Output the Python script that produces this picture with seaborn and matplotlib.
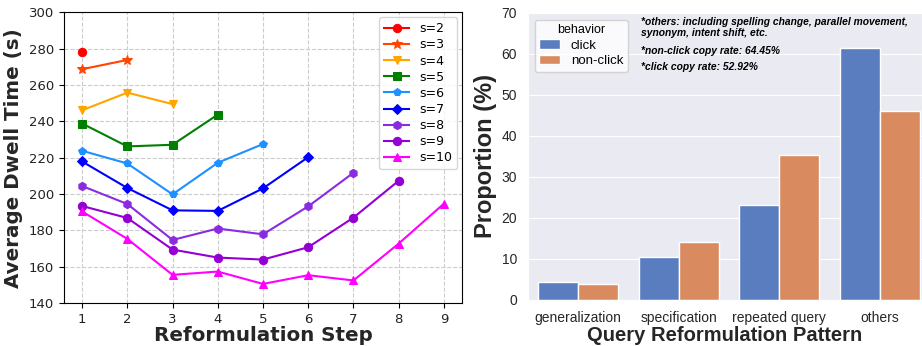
import pandas as pd
import seaborn as sns
import matplotlib.pyplot as plt

# left panel: dwell time per reformulation step, one line per session length s
session_lengths = [2, 3, 4, 5, 6, 7, 8, 9, 10]
dwell_s2 = [278.4]
dwell_s3 = [268.7, 273.8]
dwell_s4 = [246.1, 255.8, 249.5]
dwell_s5 = [238.8, 226.2, 227.1, 243.7]
dwell_s6 = [223.8, 216.8, 199.8, 217.2, 227.5]
dwell_s7 = [217.9, 203.3, 191.0, 190.7, 203.1, 220.3]
dwell_s8 = [204.4, 194.5, 174.7, 181.0, 177.8, 193.2, 211.7]
dwell_s9 = [193.4, 186.8, 169.4, 165.0, 163.9, 170.7, 187.0, 207.3]
dwell_s10 = [190.4, 175.3, 155.5, 157.3, 150.5, 155.3, 152.4, 172.7, 194.7]

# right panel: reformulation pattern proportions
patterns = ['generalization', 'specification', 'repeated query', 'others']
click_pct = [4.5, 10.6, 23.1, 61.4]
nonclick_pct = [4.0, 14.2, 35.3, 46.1]

dwell = [dwell_s2, dwell_s3, dwell_s4, dwell_s5, dwell_s6,
         dwell_s7, dwell_s8, dwell_s9, dwell_s10]
colors = ['red', 'orangered', 'orange', 'green', 'dodgerblue',
          'blue', 'blueviolet', 'darkviolet', 'magenta']
markers = ['o', '*', 'v', 's', 'p', 'D', 'h', 'o', '^']

fig = plt.figure(figsize=(9.22, 3.46), dpi=100)

with sns.axes_style('ticks'):
    ax1 = fig.add_axes([0.0694, 0.1243, 0.4317, 0.840])
with sns.axes_style('darkgrid'):
    ax2 = fig.add_axes([0.5727, 0.133, 0.4273, 0.8295])

for s, vals, c, m in zip(session_lengths, dwell, colors, markers):
    steps = list(range(1, len(vals) + 1))
    ms = 7.5 if m == '*' else 5.5 if m == 'D' else 6
    sns.lineplot(x=steps, y=vals, ax=ax1, color=c, marker=m, markersize=ms,
                 markeredgecolor=c, linewidth=1.5, label=f's={s}')

ax1.set_xlim(0.6, 9.4)
ax1.set_ylim(140, 300)
ax1.set_xticks(range(1, 10))
ax1.set_yticks(range(140, 301, 20))
ax1.grid(True, linestyle='--', color='#cccccc', linewidth=0.8)
ax1.tick_params(labelsize=9.5, colors='black', labelcolor='#222222')
for sp in ax1.spines.values():
    sp.set_visible(True)
    sp.set_color('black')
ax1.set_xlabel('Reformulation Step', fontsize=14.3, fontweight='bold', labelpad=0)
ax1.set_ylabel('Average Dwell Time (s)', fontsize=14.3, fontweight='bold', labelpad=4)
ax1.legend(loc='upper right', fontsize=9, handlelength=2.0, labelspacing=0.25,
           borderaxespad=0.4, borderpad=0.4)

# right panel
arial = 'Liberation Sans'
df = pd.DataFrame({
    'pattern': patterns * 2,
    'proportion': click_pct + nonclick_pct,
    'behavior': ['click'] * len(patterns) + ['non-click'] * len(patterns),
})
sns.barplot(data=df, x='pattern', y='proportion', hue='behavior',
            palette='muted', edgecolor='white', linewidth=1, ax=ax2)
ax2.set_xlim(-0.5, 3.42)
ax2.set_ylim(0, 70)
ax2.set_yticks(range(0, 71, 10))
for lab in ax2.get_xticklabels() + ax2.get_yticklabels():
    lab.set_fontfamily(arial)
    lab.set_fontsize(10)
    lab.set_color('#262626')
ax2.tick_params(axis='x', length=0, pad=8)
ax2.tick_params(axis='y', length=0, pad=8)
ax2.set_xlabel('Query Reformulation Pattern', fontsize=14.5, fontweight='bold',
               fontfamily=arial, color='#262626', labelpad=1)
ax2.set_ylabel('Proportion (%)', fontsize=17, fontweight='bold',
               fontfamily=arial, color='#262626', labelpad=3)
leg = ax2.legend(title='behavior', loc='upper left',
                 prop={'family': arial, 'size': 9.5}, handlelength=1.6,
                 labelspacing=0.25, borderpad=0.35, handletextpad=0.8)
leg.get_title().set_fontfamily(arial)
leg.get_title().set_fontsize(9)

note_kw = dict(transform=ax2.transAxes, fontsize=7.4, fontweight='bold',
               fontstyle='italic', fontfamily=arial, color='black')
ax2.text(0.288, 0.985, '*others: including spelling change, parallel movement,\nsynonym, intent shift, etc.',
         va='top', linespacing=1.1, **note_kw)
ax2.text(0.288, 0.868, '*non-click copy rate: 64.45%', va='center', **note_kw)
ax2.text(0.288, 0.812, '*click copy rate: 52.92%', va='center', **note_kw)

fig.savefig('out.png', dpi=100)
